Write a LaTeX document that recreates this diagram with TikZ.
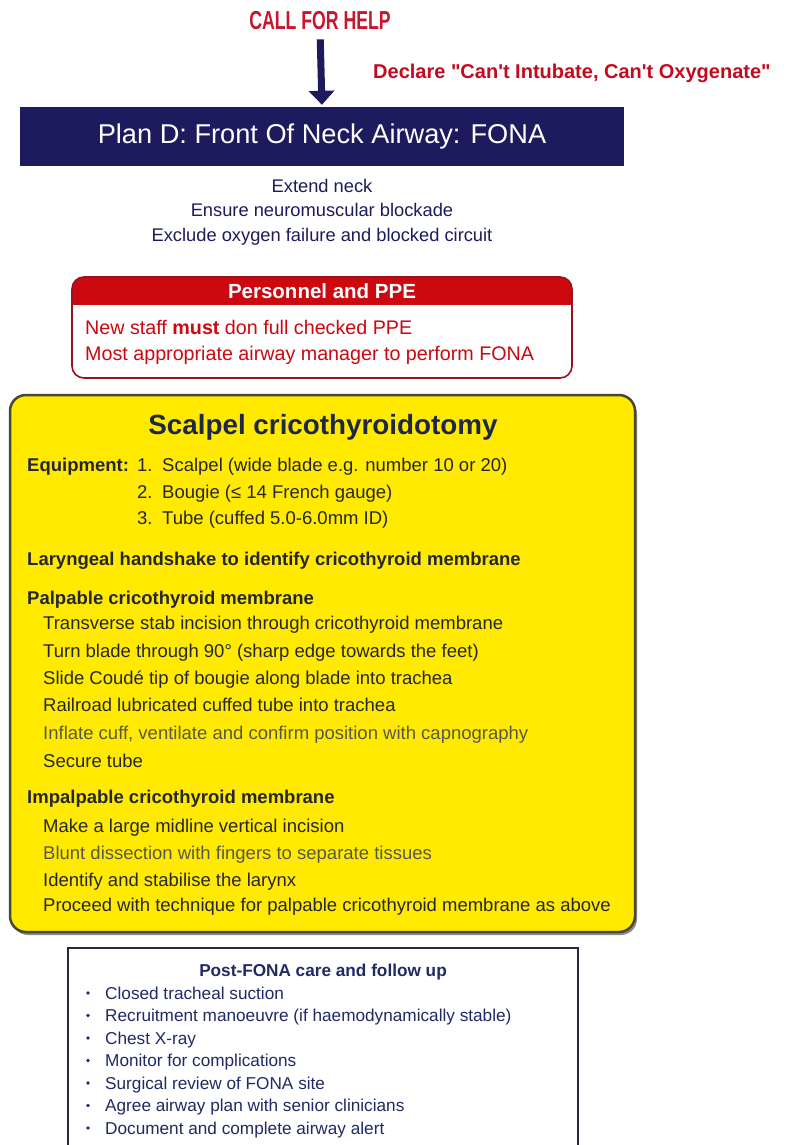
\documentclass[tikz,border=0pt]{standalone}
\usepackage{fontspec}
\setmainfont{Liberation Sans}[Ligatures=TeXOff]
\usetikzlibrary{arrows.meta}

\definecolor{plannavy}{RGB}{28,27,94}
\definecolor{helpred}{RGB}{200,22,46}
\definecolor{declred}{RGB}{196,10,30}
\definecolor{ppered}{RGB}{204,8,16}
\definecolor{pperim}{RGB}{150,20,30}
\definecolor{scalpelyellow}{RGB}{255,234,0}
\definecolor{scalpelrim}{RGB}{72,72,56}
\definecolor{scalpeltitle}{RGB}{30,40,70}
\definecolor{itemtext}{RGB}{38,38,50}
\definecolor{itemlight}{RGB}{88,88,80}
\definecolor{posttext}{RGB}{32,42,100}
\definecolor{postrim}{RGB}{40,40,60}
\newcommand{\fsz}[1]{\fontsize{#1}{#1}\selectfont}

\begin{document}
\begin{tikzpicture}[x=1pt,y=-1pt,
  stepline/.style={anchor=base west,inner sep=0pt,font=\fsz{18.5}},
  stephead/.style={anchor=base west,inner sep=0pt,font=\fsz{18.5}\bfseries,text=itemtext},
  guideline/.style={anchor=base,inner sep=0pt,font=\fsz{18.3},text=plannavy},
  postline/.style={anchor=base west,inner sep=0pt,font=\fsz{17.2},text=posttext}]

\useasboundingbox[fill=white] (0,0) rectangle (795,1145);

\node (help) at (320,21)[inner sep=0pt,text=helpred,font=\fsz{26}\bfseries]{\scalebox{0.68}[1]{CALL FOR HELP}};
\node (declare) at (373,73)[anchor=west,inner sep=0pt,text=declred,font=\fsz{20}\bfseries]{Declare "Can't Intubate, Can't Oxygenate"};

\node (plan) at (322,136.5)[fill=plannavy,minimum width=604pt,minimum height=59pt,inner sep=0pt,text=white,font=\fsz{27.2}]{Plan D: Front Of Neck Airway: FONA};

\draw[-{Triangle[width=25pt,length=14pt]},line width=7pt,plannavy,shorten <=9pt,shorten >=2pt] (help.south) -- (plan.north);

\node (extend) at (322,192.5)[guideline]{Extend neck};
\node (ensure) at (322,216.5)[guideline]{Ensure neuromuscular blockade};
\node (exclude) at (322,241.5)[guideline]{Exclude oxygen failure and blocked circuit};

% personnel box
\begin{scope}
  \clip[rounded corners=12pt] (72,277) rectangle (572,378);
  \fill[white] (72,277) rectangle (572,378);
  \fill[ppered] (72,277) rectangle (572,305);
\end{scope}
\draw[pperim,line width=1.6pt,rounded corners=12pt] (72,277) rectangle (572,378);
\node (ppehead) at (322,291)[inner sep=0pt,text=white,font=\fsz{20.5}\bfseries]{Personnel and PPE};
\node (ppeone) at (85,334)[anchor=base west,inner sep=0pt,text=ppered,font=\fsz{19.7}]{New staff \textbf{must} don full checked PPE};
\node (ppetwo) at (85,360)[anchor=base west,inner sep=0pt,text=ppered,font=\fsz{19.7}]{Most appropriate airway manager to perform FONA};

% scalpel box
\fill[black!45,rounded corners=16pt] (12,398) rectangle (637,935);
\draw[scalpelrim,fill=scalpelyellow,line width=2.5pt,rounded corners=16pt] (10,395) rectangle (635,932);
\node (scalpel) at (323,434.7)[anchor=base,inner sep=0pt,text=scalpeltitle,font=\fsz{27.8}\bfseries]{Scalpel cricothyroidotomy};

\node (equip) at (27,471.6)[stephead]{Equipment:};
\foreach \y/\n/\t in {471.6/1./{Scalpel (wide blade e.g. number 10 or 20)},
                     498.6/2./{Bougie (≤ 14 French gauge)},
                     524.6/3./{Tube (cuffed 5.0-6.0mm ID)}}
  {\node at (137,\y)[stepline,text=itemtext]{\n};
   \node at (162,\y)[stepline,text=itemtext]{\t};}

\node (handshake) at (27,565.6)[stephead]{Laryngeal handshake to identify cricothyroid membrane};

\node (palpable) at (27,604.6)[stephead]{Palpable cricothyroid membrane};
\foreach \y/\c/\t in {629.6/itemtext/{Transverse stab incision through cricothyroid membrane},
                     657.6/itemtext/{Turn blade through 90° (sharp edge towards the feet)},
                     684.6/itemtext/{Slide Coudé tip of bougie along blade into trachea},
                     711.6/itemtext/{Railroad lubricated cuffed tube into trachea},
                     739.6/itemlight/{Inflate cuff, ventilate and confirm position with capnography},
                     767.6/itemtext/{Secure tube}}
  {\node at (43,\y)[stepline,text=\c]{\t};}

\node (impalpable) at (27,803.6)[stephead]{Impalpable cricothyroid membrane};
\foreach \y/\c/\t in {832.6/itemtext/{Make a large midline vertical incision},
                     859.6/itemlight/{Blunt dissection with fingers to separate tissues},
                     886.6/itemtext/{Identify and stabilise the larynx},
                     911.6/itemtext/{Proceed with technique for palpable cricothyroid membrane as above}}
  {\node at (43,\y)[stepline,text=\c]{\t};}

% post-FONA box
\draw[postrim,line width=1.3pt] (68,1150) -- (68,948) -- (578,948) -- (578,1150);
\node (posthead) at (323,976)[anchor=base,inner sep=0pt,text=posttext,font=\fsz{17.2}\bfseries]{Post-FONA care and follow up};
\foreach \y/\t in {993/Closed tracheal suction,
                  1015.5/{Recruitment manoeuvre (if haemodynamically stable)},
                  1038/Chest X-ray,
                  1060.5/Monitor for complications,
                  1083/Surgical review of FONA site,
                  1105.5/Agree airway plan with senior clinicians,
                  1128/Document and complete airway alert}
  {\fill[posttext] (88,\y) circle (1.8pt);
   \node at (105,\y+6)[postline]{\t};}

\end{tikzpicture}
\end{document}
